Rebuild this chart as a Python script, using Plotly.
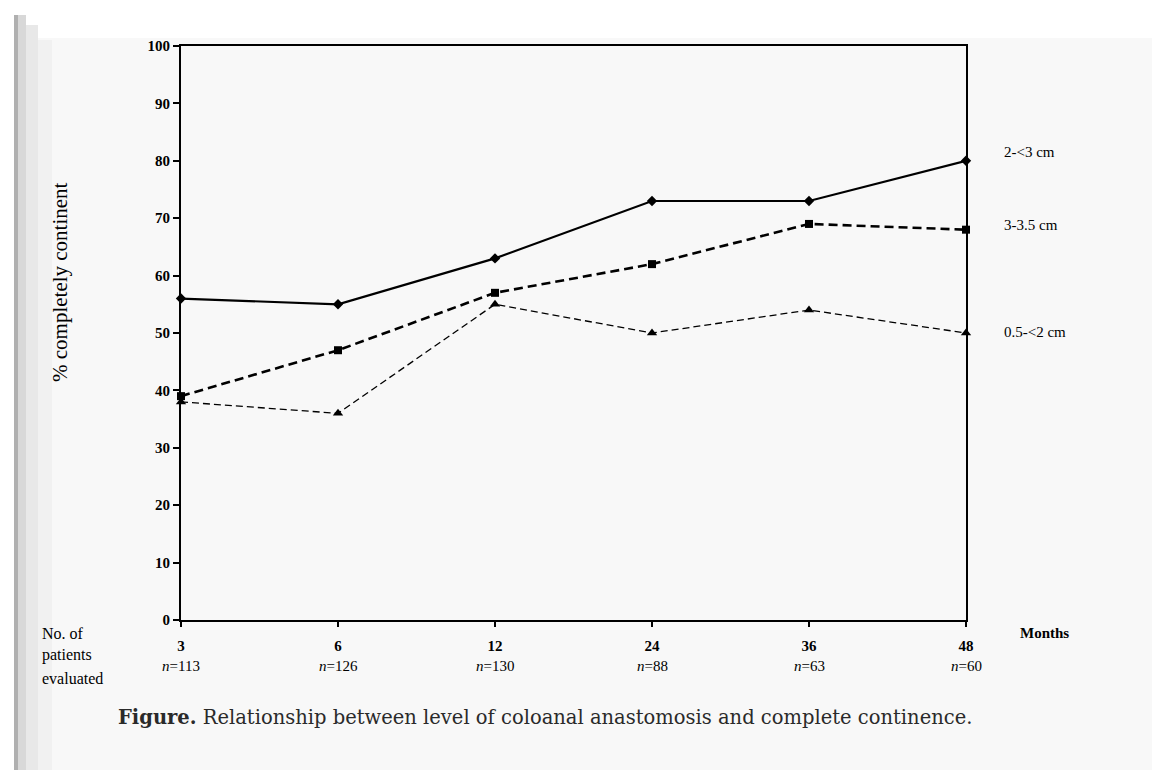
import plotly.graph_objects as go

months = ["3", "6", "12", "24", "36", "48"]
n_patients = ["113", "126", "130", "88", "63", "60"]
series_names = ["2-<3 cm", "3-3.5 cm", "0.5-<2 cm"]
val_2_3 = [56, 55, 63, 73, 73, 80]
val_3_35 = [39, 47, 57, 62, 69, 68]
val_05_2 = [38, 36, 55, 50, 54, 50]
yticks = [0, 10, 20, 30, 40, 50, 60, 70, 80, 90, 100]

OFF = 8  # browser body margin
W, H = 1160 - OFF, 770 - OFF
# plot area in screen pixels
SL, SR, ST, SB = 181, 966, 46, 620
L, R, T, B = SL - OFF, SR - OFF, ST - OFF, SB - OFF


def px(xs):
    return (xs - SL) / (SR - SL)


def py(ys):
    return (SB - ys) / (SB - ST)


xpos = list(range(len(months)))
fig = go.Figure()

styles = [
    (val_2_3, dict(color="black", width=2.2, dash="solid"), dict(symbol="diamond", size=8)),
    (val_3_35, dict(color="black", width=2.6, dash="9px,5px"), dict(symbol="square", size=8)),
    (val_05_2, dict(color="black", width=1.3, dash="7px,4px"), dict(symbol="triangle-up", size=9)),
]
for name, (vals, ln, mk) in zip(series_names, styles):
    fig.add_trace(go.Scatter(x=xpos, y=vals, mode="lines+markers", name=name,
                             line=ln, marker=dict(color="black", **mk),
                             cliponaxis=False, showlegend=False))

serif = "Liberation Serif"
ann = []
label_y = {"2-<3 cm": 152, "3-3.5 cm": 225, "0.5-<2 cm": 332}
for name in series_names:
    ann.append(dict(x=px(1002), y=py(label_y[name]), xref="paper", yref="paper", text=name,
                    showarrow=False, xanchor="left", yanchor="middle",
                    font=dict(family=serif, size=15, color="black")))
for i, n in enumerate(n_patients):
    ann.append(dict(x=i, y=py(666), xref="x", yref="paper", yanchor="middle",
                    text="<i>n</i>=" + n, showarrow=False,
                    font=dict(family=serif, size=15, color="black")))
ann.append(dict(x=px(1018), y=py(633), xref="paper", yref="paper", text="<b>Months</b>",
                showarrow=False, xanchor="left", yanchor="middle",
                font=dict(family=serif, size=15, color="black")))
for line_text, ys in zip(["No. of", "patients", "evaluated"], [633, 655, 678]):
    ann.append(dict(x=px(40), y=py(ys), xref="paper", yref="paper",
                    text=line_text, showarrow=False, xanchor="left", yanchor="middle",
                    font=dict(family=serif, size=16, color="black")))
ann.append(dict(x=px(60), y=py(282), xref="paper", yref="paper",
                text="% completely continent", textangle=-90,
                showarrow=False, xanchor="center", yanchor="middle",
                font=dict(family=serif, size=21, color="black")))
ann.append(dict(x=px(545), y=py(717), xref="paper", yref="paper",
                text="<b>Figure.</b> Relationship between level of coloanal anastomosis and complete continence.",
                showarrow=False, xanchor="center", yanchor="middle",
                font=dict(family="DejaVu Serif", size=19.5, color="#2a2a2a")))

shapes = [
    dict(type="rect", xref="paper", yref="paper", x0=px(0), x1=px(1200), y0=py(38), y1=py(-20),
         fillcolor="white", line=dict(width=0), layer="below"),
    dict(type="rect", xref="paper", yref="paper", x0=px(-20), x1=px(14), y0=py(800), y1=py(-20),
         fillcolor="white", line=dict(width=0), layer="below"),
    dict(type="rect", xref="paper", yref="paper", x0=px(14), x1=px(18), y0=py(800), y1=py(15),
         fillcolor="#b0b0b0", line=dict(width=0), layer="below"),
    dict(type="rect", xref="paper", yref="paper", x0=px(18), x1=px(26), y0=py(800), y1=py(15),
         fillcolor="#d8d8d8", line=dict(width=0), layer="below"),
    dict(type="rect", xref="paper", yref="paper", x0=px(26), x1=px(38), y0=py(800), y1=py(25),
         fillcolor="#e8e8e8", line=dict(width=0), layer="below"),
    dict(type="rect", xref="paper", yref="paper", x0=px(38), x1=px(52), y0=py(800), y1=py(40),
         fillcolor="#f1f1f1", line=dict(width=0), layer="below"),
]

fig.update_layout(
    width=W, height=H,
    margin=dict(l=L, r=W - R, t=T, b=H - B, pad=0, autoexpand=False),
    paper_bgcolor="#f8f8f8", plot_bgcolor="#f8f8f8",
    annotations=ann, shapes=shapes,
    xaxis=dict(range=[0, 5], tickvals=xpos, ticktext=["<b>%s</b>" % m for m in months],
               showgrid=False, zeroline=False, showline=True, linecolor="black", linewidth=2,
               mirror=True, ticks="outside", ticklen=5, tickcolor="black", tickwidth=2,
               tickfont=dict(family=serif, size=15, color="black"), ticklabelstandoff=6),
    yaxis=dict(range=[0, 100], tickvals=yticks, ticktext=["<b>%d</b>" % v for v in yticks],
               showgrid=False, zeroline=False, showline=True, linecolor="black", linewidth=2,
               mirror=True, ticks="outside", ticklen=6, tickcolor="black", tickwidth=2,
               tickfont=dict(family=serif, size=15, color="black")),
)
fig.write_html("out.html")
